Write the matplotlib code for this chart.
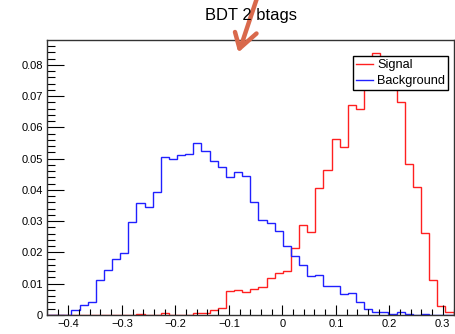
import numpy as np
import matplotlib
matplotlib.use("Agg")
import matplotlib.pyplot as plt
from matplotlib.lines import Line2D
from matplotlib.ticker import MultipleLocator, FuncFormatter

plt.rcParams['font.family'] = ['Liberation Sans', 'DejaVu Sans']

title = "BDT 2 btags"
x_min, x_max, n_bins = -0.44, 0.32, 50
signal = [0, 0, 0, 0, 0, 0, 0, 0, 0, 0,
          0, 0.0003, 0, 0, 0.0005, 0, 0, 0, 0.0007, 0.0007,
          0.0015, 0.0021, 0.0078, 0.0079, 0.0072, 0.0082, 0.0088, 0.0117, 0.0133, 0.0140,
          0.0215, 0.0287, 0.0267, 0.0405, 0.0463, 0.0564, 0.0537, 0.0673, 0.0658, 0.0760,
          0.0838, 0.0795, 0.0750, 0.0681, 0.0483, 0.0410, 0.0261, 0.0113, 0.0028, 0.0009]
background = [0, 0, 0, 0.0017, 0.0032, 0.0041, 0.0113, 0.0143, 0.0178, 0.0199,
              0.0296, 0.0357, 0.0347, 0.0394, 0.0506, 0.0499, 0.0511, 0.0515, 0.0550, 0.0524,
              0.0492, 0.0473, 0.0441, 0.0457, 0.0444, 0.0362, 0.0303, 0.0293, 0.0269, 0.0221,
              0.0189, 0.0161, 0.0124, 0.0128, 0.0093, 0.0093, 0.0066, 0.0069, 0.0043, 0.0019,
              0.0011, 0.0011, 0.0004, 0.0008, 0.0003, 0, 0.0002, 0, 0, 0]
labels = ["Signal", "Background"]
colors = ["#ff2020", "#2020ff"]

W, H = 456, 334
fig = plt.figure(figsize=(W / 100, H / 100), dpi=100)
L, R, T, B = 47, 453.5, 40, 315
ax = fig.add_axes([L / W, 1 - B / H, (R - L) / W, (B - T) / H])

edges = np.linspace(x_min, x_max, n_bins + 1)
for vals, c, lab in zip([signal, background], colors, labels):
    ax.stairs(vals, edges, color=c, lw=1.0, label=lab)

ax.set_xlim(x_min, x_max)
ax.set_ylim(0, 1.05 * max(signal))

ax.xaxis.set_major_locator(MultipleLocator(0.1))
ax.xaxis.set_minor_locator(MultipleLocator(0.02))
ax.yaxis.set_major_locator(MultipleLocator(0.01))
ax.yaxis.set_minor_locator(MultipleLocator(0.002))
ax.tick_params(axis='both', which='both', direction='in', top=False, right=False,
               labelsize=8, colors='black', width=0.8)
ax.tick_params(axis='x', which='major', length=7.5, pad=3)
ax.tick_params(axis='x', which='minor', length=4)
ax.tick_params(axis='y', which='major', length=12, pad=3)
ax.tick_params(axis='y', which='minor', length=6)

def fmt(v, pos):
    if abs(v) < 1e-9:
        return "0"
    return f"{v:.1f}".replace("-", "\u2212")
def fmty(v, pos):
    if abs(v) < 1e-9:
        return "0"
    return f"{v:.2f}"
ax.xaxis.set_major_formatter(FuncFormatter(fmt))
ax.yaxis.set_major_formatter(FuncFormatter(fmty))

for s in ax.spines.values():
    s.set_linewidth(1.0)
    s.set_color('#333333')

fig.text(251 / W, 1 - 15.5 / H, title, ha='center', va='center', fontsize=11.9)

leg = ax.legend(loc='upper left', bbox_to_anchor=(352.7 / W, 1 - 56 / H),
                bbox_transform=fig.transFigure, fontsize=9.2, frameon=True,
                fancybox=False, edgecolor='black', framealpha=1,
                borderpad=0.25, handlelength=1.35, handletextpad=0.3,
                labelspacing=0.3, borderaxespad=0)
leg.get_frame().set_linewidth(1.0)
for h in leg.get_lines():
    h.set_linewidth(1.0)

# orange arrow annotation drawn on top of the picture
acol = '#d9694c'
def P(x, y):
    return (x / W, 1 - y / H)
for (x0, y0), (x1, y1) in [((257, -2), (241, 46)), ((235, 32), (239.5, 48.5)), ((239.5, 48.5), (256.5, 33.5))]:
    a, b = P(x0, y0), P(x1, y1)
    fig.add_artist(Line2D([a[0], b[0]], [a[1], b[1]], color=acol, lw=3.2,
                          solid_capstyle='round', transform=fig.transFigure))

fig.savefig("out.png", dpi=100)
